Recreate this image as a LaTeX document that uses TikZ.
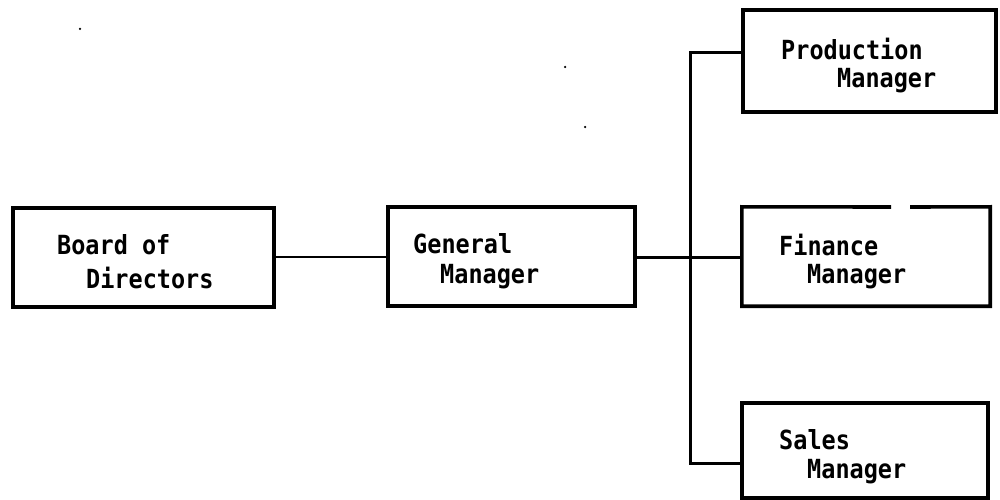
\documentclass[tikz,border=0pt]{standalone}
\usepackage{fontspec}
\setmonofont{DejaVu Sans Mono}
\begin{document}
\begin{tikzpicture}[x=1pt,y=-1pt,
  box/.style={draw=black, line width=3.6pt, rectangle, inner sep=0pt},
  plainbox/.style={rectangle, inner sep=0pt},
  lbl/.style={anchor=west, inner sep=0pt, yscale=1.12, font=\ttfamily\bfseries\fontsize{23.5}{26}\selectfont},
  conn/.style={draw=black, line width=3pt},
  speck/.style={fill=black, circle, inner sep=0pt, minimum size=2.5pt}]
\useasboundingbox (0,0) rectangle (1000,500);
% boxes
\node[box, minimum width=261pt, minimum height=99pt] (board) at (143.5,257.5) {};
\node[box, minimum width=247pt, minimum height=99pt] (gm) at (511.5,256.5) {};
\node[box, minimum width=253pt, minimum height=102pt] (prod) at (869.5,61) {};
\node[plainbox, minimum width=248pt, minimum height=99pt] (fin) at (866,256.5) {};
\node[box, minimum width=246pt, minimum height=95pt] (sales) at (865,450.5) {};
% finance box outline with gap on top
\coordinate (fingapl) at (891,207);
\coordinate (fingapr) at (910,207);
\draw[line width=3.6pt] (fingapl) -- (fin.north west) -- (fin.south west) -- (fin.south east) -- (fin.north east) -- (fingapr);
% labels
\node[lbl] (t1) at (57,245) {Board of};
\node[lbl] (t2) at (86,278) {Directors};
\node[lbl] (t3) at (413,244) {General};
\node[lbl] (t4) at (440,277) {Manager};
\node[lbl] (t5) at (781,49) {Production};
\node[lbl] (t6) at (837,81) {Manager};
\node[lbl] (t7) at (779,245) {Finance};
\node[lbl] (t8) at (807,277) {Manager};
\node[lbl] (t9) at (779,440) {Sales};
\node[lbl] (t10) at (807,472) {Manager};
% connectors
\coordinate (bus) at (690,257);
\draw[conn, line width=2.6pt] (board.east |- bus) -- (gm.west |- bus);
\draw[conn] (gm.east |- bus) -- (fin.west |- bus);
\draw[conn] ([yshift=8pt]prod.west) -| (bus) |- ([yshift=-12.5pt]sales.west);
% scan specks
\node[speck] (s1) at (80,29) {};
\node[speck] (s2) at (565,67) {};
\node[speck] (s3) at (585,127) {};
\end{tikzpicture}
\end{document}
